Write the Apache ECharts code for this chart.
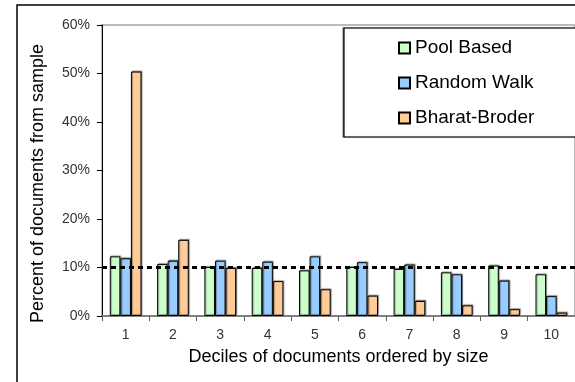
<!DOCTYPE html>
<html>
<head>
<meta charset="utf-8">
<script src="https://cdn.jsdelivr.net/npm/echarts@6/dist/echarts.min.js"></script>
<style>
html,body{margin:0;padding:0;background:#fff;}
#c{width:575px;height:382px;}
</style>
</head>
<body>
<div id="c"></div>
<script>
var categories = ['1','2','3','4','5','6','7','8','9','10'];
var poolBased = [12.3, 10.7, 10.1, 9.9, 9.4, 10.1, 9.7, 9.0, 10.4, 8.6];
var randomWalk = [11.9, 11.4, 11.4, 11.2, 12.3, 11.1, 10.6, 8.6, 7.3, 4.1];
var bharatBroder = [50.4, 15.7, 9.9, 7.2, 5.5, 4.2, 3.1, 2.2, 1.4, 0.7];
var seriesNames = ['Pool Based', 'Random Walk', 'Bharat-Broder'];
var referenceLevel = 10;

var FONT = "'Liberation Sans', Arial, sans-serif";
var chart = echarts.init(document.getElementById('c'), null, {renderer: 'canvas'});

function barSeries(name, data, color) {
  return {
    name: name,
    type: 'bar',
    data: data,
    barGap: '0%',
    barCategoryGap: '33%',
    itemStyle: {
      color: color,
      borderColor: '#000',
      borderWidth: 1,
      shadowColor: 'rgba(0,0,0,0.35)',
      shadowOffsetX: 1,
      shadowOffsetY: -1,
      shadowBlur: 1
    },
    emphasis: {disabled: true}
  };
}

var series = [
  barSeries(seriesNames[0], poolBased, '#CCFFCC'),
  barSeries(seriesNames[1], randomWalk, '#99CCFF'),
  barSeries(seriesNames[2], bharatBroder, '#FFCC99')
];
series[2].markLine = {
  silent: true,
  symbol: ['none', 'none'],
  label: {show: false},
  lineStyle: {color: '#000', width: 3, type: [5, 4]},
  data: [{yAxis: referenceLevel}]
};

chart.setOption({
  animation: false,
  backgroundColor: '#fff',
  textStyle: {fontFamily: FONT},
  graphic: [
    {type: 'rect', z: -1, shape: {x: 17, y: 5, width: 700, height: 500},
     style: {fill: 'none', stroke: '#000', lineWidth: 1.5}},
    {type: 'rect', z: 0, shape: {x: 344, y: 28, width: 400, height: 109},
     style: {fill: '#fff', stroke: '#000', lineWidth: 1.2, shadowColor: 'rgba(0,0,0,0.4)', shadowOffsetX: -1, shadowBlur: 1}}
  ],
  legend: {
    orient: 'vertical',
    left: 398,
    top: 38,
    padding: 0,
    itemWidth: 11,
    itemHeight: 11,
    itemGap: 15,
    icon: 'rect',
    z: 5,
    textStyle: {fontFamily: FONT, fontSize: 19, color: '#000', lineHeight: 20},
    data: seriesNames
  },
  grid: {
    left: 102, top: 25, width: 479, height: 291,
    show: true, borderColor: '#bbbbbb', borderWidth: 2, backgroundColor: 'transparent'
  },
  xAxis: {
    type: 'category',
    data: categories,
    name: 'Deciles of documents ordered by size',
    nameLocation: 'middle',
    nameGap: 32,
    nameTextStyle: {fontFamily: FONT, fontSize: 18, color: '#000'},
    axisLine: {lineStyle: {color: '#808080', width: 2}},
    axisTick: {show: true, length: 5, lineStyle: {color: '#606060', width: 1}},
    axisLabel: {fontFamily: FONT, fontSize: 14, color: '#333', margin: 12}
  },
  yAxis: {
    type: 'value',
    min: 0, max: 60, interval: 10,
    name: 'Percent of documents from sample',
    nameLocation: 'middle',
    nameGap: 55,
    nameRotate: 90,
    nameTextStyle: {fontFamily: FONT, fontSize: 18, color: '#000', padding: [0, 26, 0, 0]},
    axisLine: {show: true, lineStyle: {color: '#000', width: 1}},
    axisTick: {show: true, length: 5, lineStyle: {color: '#000', width: 1}},
    splitLine: {show: false},
    axisLabel: {fontFamily: FONT, fontSize: 14, color: '#333', margin: 12, formatter: '{value}%'}
  },
  series: series
});
</script>
</body>
</html>
